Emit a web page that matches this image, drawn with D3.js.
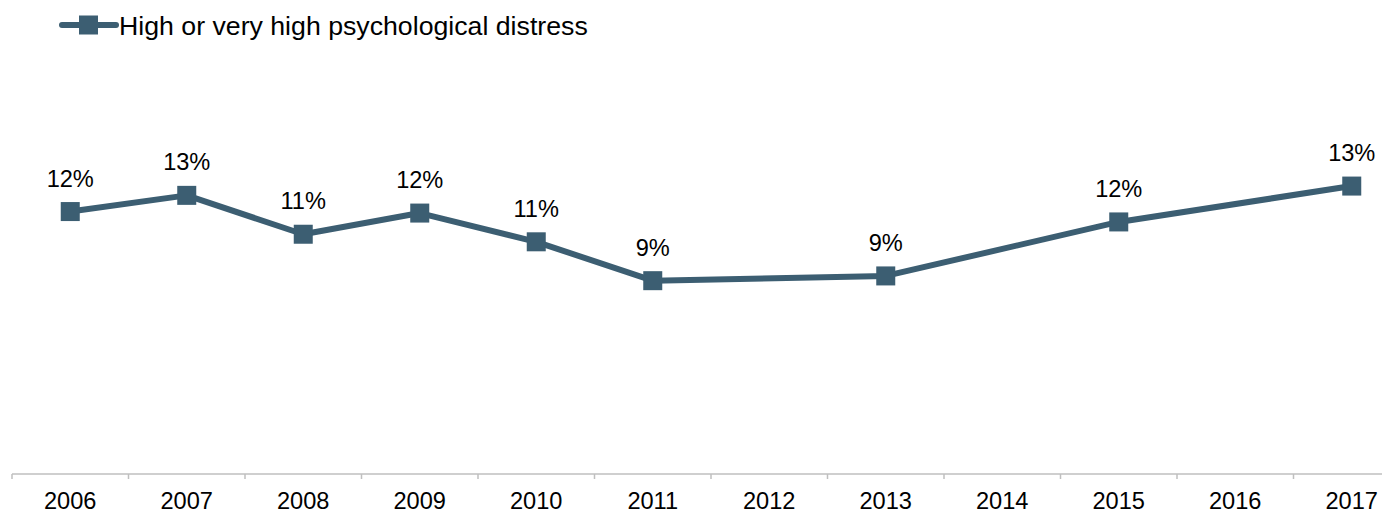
<!DOCTYPE html>
<html>
<head>
<meta charset="utf-8">
<script src="https://cdn.jsdelivr.net/npm/d3@7"></script>
<style>
html,body{margin:0;padding:0;background:#fff;}
svg{display:block;font-family:"Liberation Sans",Arial,sans-serif;}
</style>
</head>
<body>
<svg id="chart" width="1382" height="513"></svg>
<script>
const years = ["2006","2007","2008","2009","2010","2011","2012","2013","2014","2015","2016","2017"];
const distress = [12.15, 12.9, 11.1, 12.08, 10.75, 8.95, null, 9.17, null, 11.67, null, 13.33];
const seriesName = "High or very high psychological distress";

const color = "#3c5e72";
const svg = d3.select("#chart");

const x = d3.scaleBand().domain(years).range([12, 12 + 12 * 116.5]).padding(0);
const y = d3.scaleLinear().domain([0, 20]).range([474, 42]);

// axis
const ax = svg.append("g");
ax.append("line")
  .attr("x1", x.range()[0]).attr("x2", x.range()[1])
  .attr("y1", y(0)).attr("y2", y(0))
  .attr("stroke", "#bfbfbf").attr("stroke-width", 1.5);
const edges = years.map(d => x(d)).concat([x(years[years.length-1]) + x.bandwidth()]);
ax.selectAll("line.tick").data(edges).enter().append("line")
  .attr("class","tick")
  .attr("x1", d => d).attr("x2", d => d)
  .attr("y1", y(0)).attr("y2", y(0) + 5)
  .attr("stroke", "#bfbfbf").attr("stroke-width", 1.5);
ax.selectAll("text").data(years).enter().append("text")
  .attr("x", d => x(d) + x.bandwidth()/2)
  .attr("y", 509)
  .attr("text-anchor","middle")
  .attr("font-size", 23.6)
  .attr("fill", "#000")
  .text(d => d);

const pts = years.map((yr, i) => ({yr, v: distress[i]})).filter(d => d.v !== null);
const line = d3.line().x(d => x(d.yr) + x.bandwidth()/2).y(d => y(d.v));
svg.append("path").datum(pts)
  .attr("d", line)
  .attr("fill","none")
  .attr("stroke", color)
  .attr("stroke-width", 6)
  .attr("stroke-linejoin","round");

const sq = 19;
svg.selectAll("rect.pt").data(pts).enter().append("rect")
  .attr("class","pt")
  .attr("x", d => x(d.yr) + x.bandwidth()/2 - sq/2)
  .attr("y", d => y(d.v) - sq/2)
  .attr("width", sq).attr("height", sq)
  .attr("fill", color);

svg.selectAll("text.lbl").data(pts).enter().append("text")
  .attr("class","lbl")
  .attr("x", d => x(d.yr) + x.bandwidth()/2)
  .attr("y", d => y(d.v) - 25)
  .attr("text-anchor","middle")
  .attr("font-size", 23.6)
  .attr("fill","#000")
  .text(d => Math.round(d.v) + "%");

// legend
const lg = svg.append("g");
lg.append("line").attr("x1", 62).attr("x2", 116).attr("y1", 25).attr("y2", 25)
  .attr("stroke", color).attr("stroke-width", 6).attr("stroke-linecap","round");
lg.append("rect").attr("x", 79).attr("y", 15.5).attr("width", 19).attr("height", 19).attr("fill", color);
lg.append("text").attr("x", 119).attr("y", 35).attr("font-size", 26.7).attr("fill","#000").text(seriesName);
</script>
</body>
</html>
